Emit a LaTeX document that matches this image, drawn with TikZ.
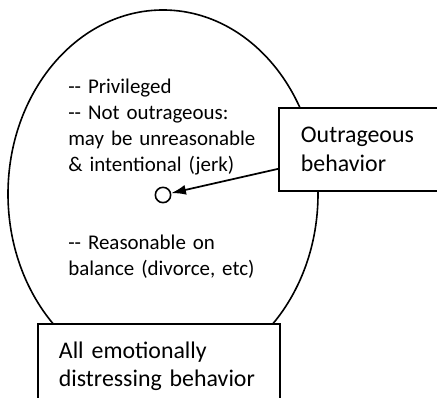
\documentclass[tikz,border=0pt]{standalone}
\usepackage{fontspec}
\setmainfont{Carlito}
\usetikzlibrary{arrows.meta}
\newcommand\dashes{-\kern0pt-}
\begin{document}
\begin{tikzpicture}[x=0.75pt, y=-0.75pt,
        labelbox/.style={draw, line width=1.4pt, fill=white, align=left, inner ysep=0pt,
            font=\fontsize{17.9}{21.2}\selectfont},
        note/.style={align=left, inner sep=0pt, font=\fontsize{15.7}{19.5}\selectfont}]
    \useasboundingbox (0,0) rectangle (437,398);
    % the big set
    \draw[line width=1.2pt] (163,194) ellipse [x radius=155, y radius=184];
    \node[note, anchor=base west, text width=150pt] (notes) at (68,94)
        {\dashes{} Privileged\\\dashes{} Not outrageous:\\may be unreasonable\\\& intentional (jerk)};
    \node[note, anchor=base west, text width=150pt] (reason) at (68,250)
        {\dashes{} Reasonable on\\balance (divorce, etc)};
    \node[circle, draw, line width=1.2pt, minimum size=11.5pt, inner sep=0pt] (dot) at (163,195) {};
    % the boxes
    \node[labelbox, anchor=north west, text width=94.5pt, inner xsep=16.5pt, minimum height=62.25pt]
        (outr) at (278,107) {Outrageous\\behavior};
    \node[labelbox, anchor=north west, text width=150pt, inner xsep=15.75pt, minimum height=63.75pt]
        (all) at (37,323) {All emotionally\\distressing behavior};
    \draw[line width=1.3pt, -{Latex[length=11pt, width=7.5pt]}] ([yshift=-14.6pt]outr.west) -- (dot);
\end{tikzpicture}
\end{document}
